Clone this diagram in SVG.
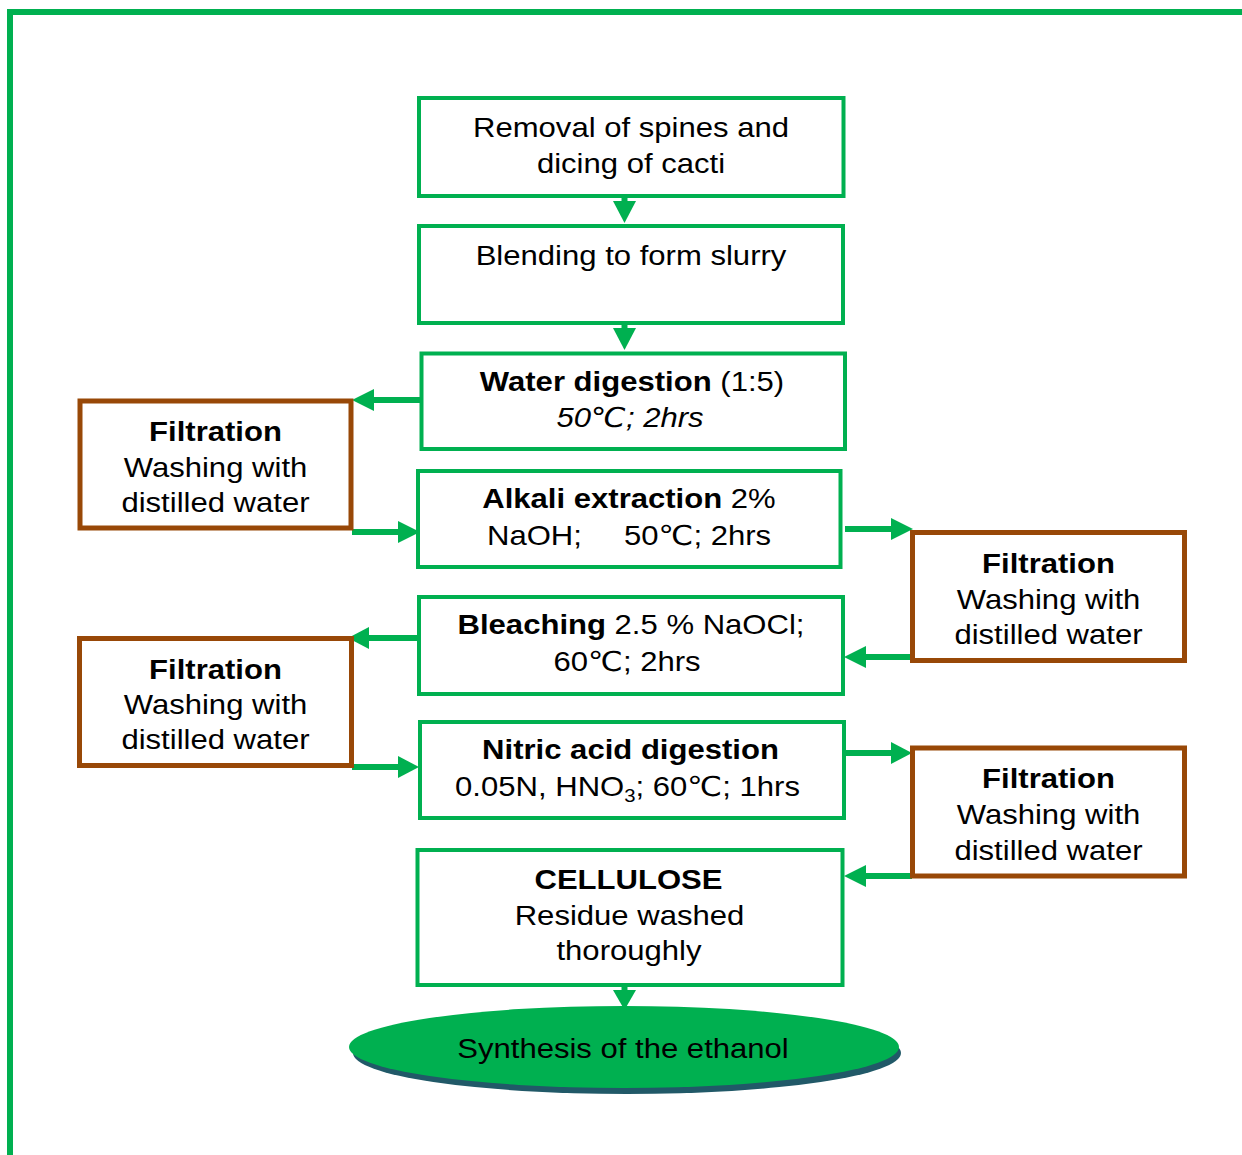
<svg xmlns="http://www.w3.org/2000/svg" width="1242" height="1155" viewBox="0 0 1242 1155">
<defs>
<style>
.g{fill:#fff;stroke:#00B050;stroke-width:4}
.b{fill:#fff;stroke:#984807;stroke-width:5}
text{font-family:"Liberation Sans",Arial,"DejaVu Sans",sans-serif;font-size:27.5px;fill:#000;text-anchor:middle}
.bd{font-weight:bold}
.it{font-style:italic}
.st{text-anchor:start}
.ln{stroke:#00B050;stroke-width:6;fill:none}
.hd{fill:#00B050}
</style>
</defs>
<rect width="1242" height="1155" fill="#fff"/>
<g id="frame">
<line x1="7" y1="12" x2="1242" y2="12" stroke="#00B050" stroke-width="6"/>
<line x1="10" y1="9" x2="10" y2="1155" stroke="#00B050" stroke-width="6"/>
</g>
<g id="connectors">
<line class="ln" x1="624.5" y1="196" x2="624.5" y2="203"/><polygon class="hd" points="613,201 636,201 624.5,223"/>
<line class="ln" x1="624.5" y1="324" x2="624.5" y2="330"/><polygon class="hd" points="613,328 636,328 624.5,350"/>
<line class="ln" x1="421" y1="400" x2="371" y2="400"/><polygon class="hd" points="374,389 374,411 352,400"/>
<line class="ln" x1="352" y1="532" x2="400" y2="532"/><polygon class="hd" points="398,521 398,543 420,532"/>
<line class="ln" x1="845" y1="529" x2="893" y2="529"/><polygon class="hd" points="891,518 891,540 913,529"/>
<line class="ln" x1="912" y1="657" x2="863" y2="657"/><polygon class="hd" points="866,646 866,668 844,657"/>
<line class="ln" x1="418" y1="638" x2="366" y2="638"/><polygon class="hd" points="369,627 369,649 348,638"/>
<line class="ln" x1="352" y1="767" x2="400" y2="767"/><polygon class="hd" points="398,756 398,778 419,767"/>
<line class="ln" x1="844" y1="753" x2="893" y2="753"/><polygon class="hd" points="891,742 891,764 912,753"/>
<line class="ln" x1="912" y1="876" x2="863" y2="876"/><polygon class="hd" points="866,865 866,887 844,876"/>
<line class="ln" x1="624.5" y1="985" x2="624.5" y2="992"/><polygon class="hd" points="613,990 636,990 624.5,1010"/>
</g>
<g id="n1"><rect class="g" x="419" y="98" width="424.5" height="98"/>
<text transform="translate(631,137) scale(1.13,1)">Removal of spines and</text>
<text transform="translate(631,173) scale(1.13,1)">dicing of cacti</text></g>
<g id="n2"><rect class="g" x="419" y="226" width="424" height="97"/>
<text transform="translate(631,265) scale(1.13,1)">Blending to form slurry</text></g>
<g id="n3"><rect class="g" x="421.5" y="353.5" width="423.5" height="95.5"/>
<text transform="translate(632,391) scale(1.13,1)"><tspan class="bd">Water digestion</tspan> (1:5)</text>
<text class="it" transform="translate(630,427) scale(1.13,1)">50℃; 2hrs</text></g>
<g id="n4"><rect class="g" x="418" y="471" width="422.5" height="96"/>
<text transform="translate(629,508) scale(1.13,1)"><tspan class="bd">Alkali extraction</tspan> 2%</text>
<text class="st" transform="translate(487,545) scale(1.13,1)">NaOH;</text>
<text class="st" transform="translate(624,545) scale(1.13,1)">50℃; 2hrs</text></g>
<g id="n5"><rect class="g" x="419" y="597" width="424" height="97"/>
<text transform="translate(631,634) scale(1.13,1)"><tspan class="bd">Bleaching</tspan> 2.5 % NaOCl;</text>
<text transform="translate(627,671) scale(1.13,1)">60℃; 2hrs</text></g>
<g id="n6"><rect class="g" x="420" y="722" width="424" height="96"/>
<text class="bd" transform="translate(630.5,759) scale(1.13,1)">Nitric acid digestion</text>
<text transform="translate(627.5,796) scale(1.13,1)">0.05N, HNO<tspan font-size="18" dy="6">3</tspan><tspan dy="-6">; 60℃; 1hrs</tspan></text></g>
<g id="n7"><rect class="g" x="417.5" y="850" width="425" height="135"/>
<text class="bd" transform="translate(628.5,889) scale(1.13,1)">CELLULOSE</text>
<text transform="translate(629.5,925) scale(1.13,1)">Residue washed</text>
<text transform="translate(629,960) scale(1.13,1)">thoroughly</text></g>
<g id="f1"><rect class="b" x="80" y="401" width="271" height="127"/>
<text class="bd" transform="translate(215.5,441) scale(1.13,1)">Filtration</text>
<text transform="translate(215.5,477) scale(1.13,1)">Washing with</text>
<text transform="translate(215.5,512) scale(1.13,1)">distilled water</text></g>
<g id="f2"><rect class="b" x="912.5" y="532.5" width="272" height="128"/>
<text class="bd" transform="translate(1048.5,573) scale(1.13,1)">Filtration</text>
<text transform="translate(1048.5,609) scale(1.13,1)">Washing with</text>
<text transform="translate(1048.5,644) scale(1.13,1)">distilled water</text></g>
<g id="f3"><rect class="b" x="79.5" y="638.5" width="272" height="127"/>
<text class="bd" transform="translate(215.5,679) scale(1.13,1)">Filtration</text>
<text transform="translate(215.5,714) scale(1.13,1)">Washing with</text>
<text transform="translate(215.5,749) scale(1.13,1)">distilled water</text></g>
<g id="f4"><rect class="b" x="912.5" y="748" width="272" height="128"/>
<text class="bd" transform="translate(1048.5,788) scale(1.13,1)">Filtration</text>
<text transform="translate(1048.5,824) scale(1.13,1)">Washing with</text>
<text transform="translate(1048.5,860) scale(1.13,1)">distilled water</text></g>
<g id="n8">
<ellipse cx="627" cy="1053" rx="274" ry="41" fill="#215968"/>
<ellipse cx="624" cy="1047" rx="275" ry="41" fill="#00B050"/>
<text transform="translate(623,1058) scale(1.13,1)">Synthesis of the ethanol</text></g>
</svg>
